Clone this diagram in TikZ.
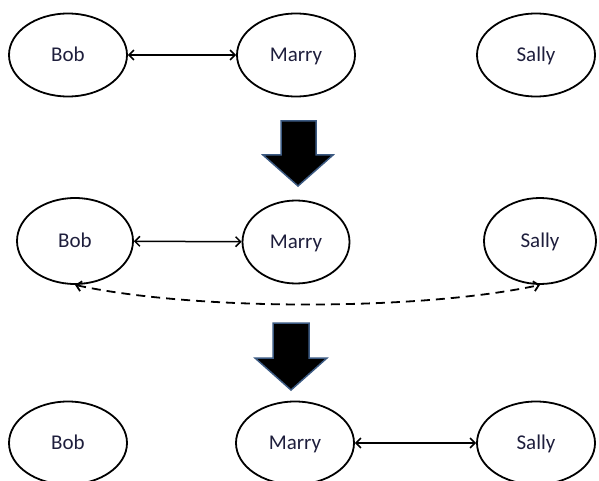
\documentclass[tikz,border=0pt]{standalone}
\usepackage{fontspec}
\setmainfont{Carlito}
\usetikzlibrary{arrows.meta,shapes.geometric,calc}
\definecolor{arrowedge}{RGB}{60,90,130}
\definecolor{txt}{RGB}{30,30,60}
\begin{document}
\begin{tikzpicture}[x=1pt,y=1pt,
  person/.style={ellipse,draw=black,line width=1.8pt,minimum width=118pt,minimum height=83pt,inner sep=0pt,text height=13pt,text depth=0pt,font=\fontsize{21}{24}\selectfont,text=txt},
  link/.style={line width=1.5pt,{Straight Barb[length=5pt,width=10pt]}-{Straight Barb[length=5pt,width=10pt]}},
  bigarrow/.style={fill=black,draw=arrowedge,line width=1.5pt,line join=miter}]
\useasboundingbox (0,0) rectangle (599,480);
% row 1
\node[person] (bob1) at (68,425) {Bob};
\node[person] (marry1) at (296,425) {Marry};
\node[person] (sally1) at (536,425) {Sally};
\draw[link] (bob1) -- (marry1);
% big arrow 1
\draw[bigarrow] (281,359) -- (316,359) -- (316,325) -- (333,325) -- (298,294) -- (263,325) -- (281,325) -- cycle;
% row 2
\node[person,minimum width=116pt,minimum height=86pt] (bob2) at (75,239) {Bob};
\node[person,minimum width=107pt,minimum height=83pt] (marry2) at (296,238) {Marry};
\node[person,minimum width=112pt,minimum height=86pt] (sally2) at (540,239) {Sally};
\draw[link] (bob2) -- (marry2);
\draw[link,line width=1.8pt,dash pattern=on 9pt off 6pt] (bob2.south) .. controls ($(bob2.south)+(120,-26)$) and ($(sally2.south)+(-120,-26)$) .. (sally2.south);
% big arrow 2
\draw[bigarrow] (273,157) -- (309,157) -- (309,122) -- (327,122) -- (291,90) -- (255,122) -- (273,122) -- cycle;
% row 3
\node[person] (bob3) at (68,37) {Bob};
\node[person] (marry3) at (295,37) {Marry};
\node[person] (sally3) at (536,37) {Sally};
\draw[link] (marry3) -- (sally3);
\end{tikzpicture}
\end{document}
